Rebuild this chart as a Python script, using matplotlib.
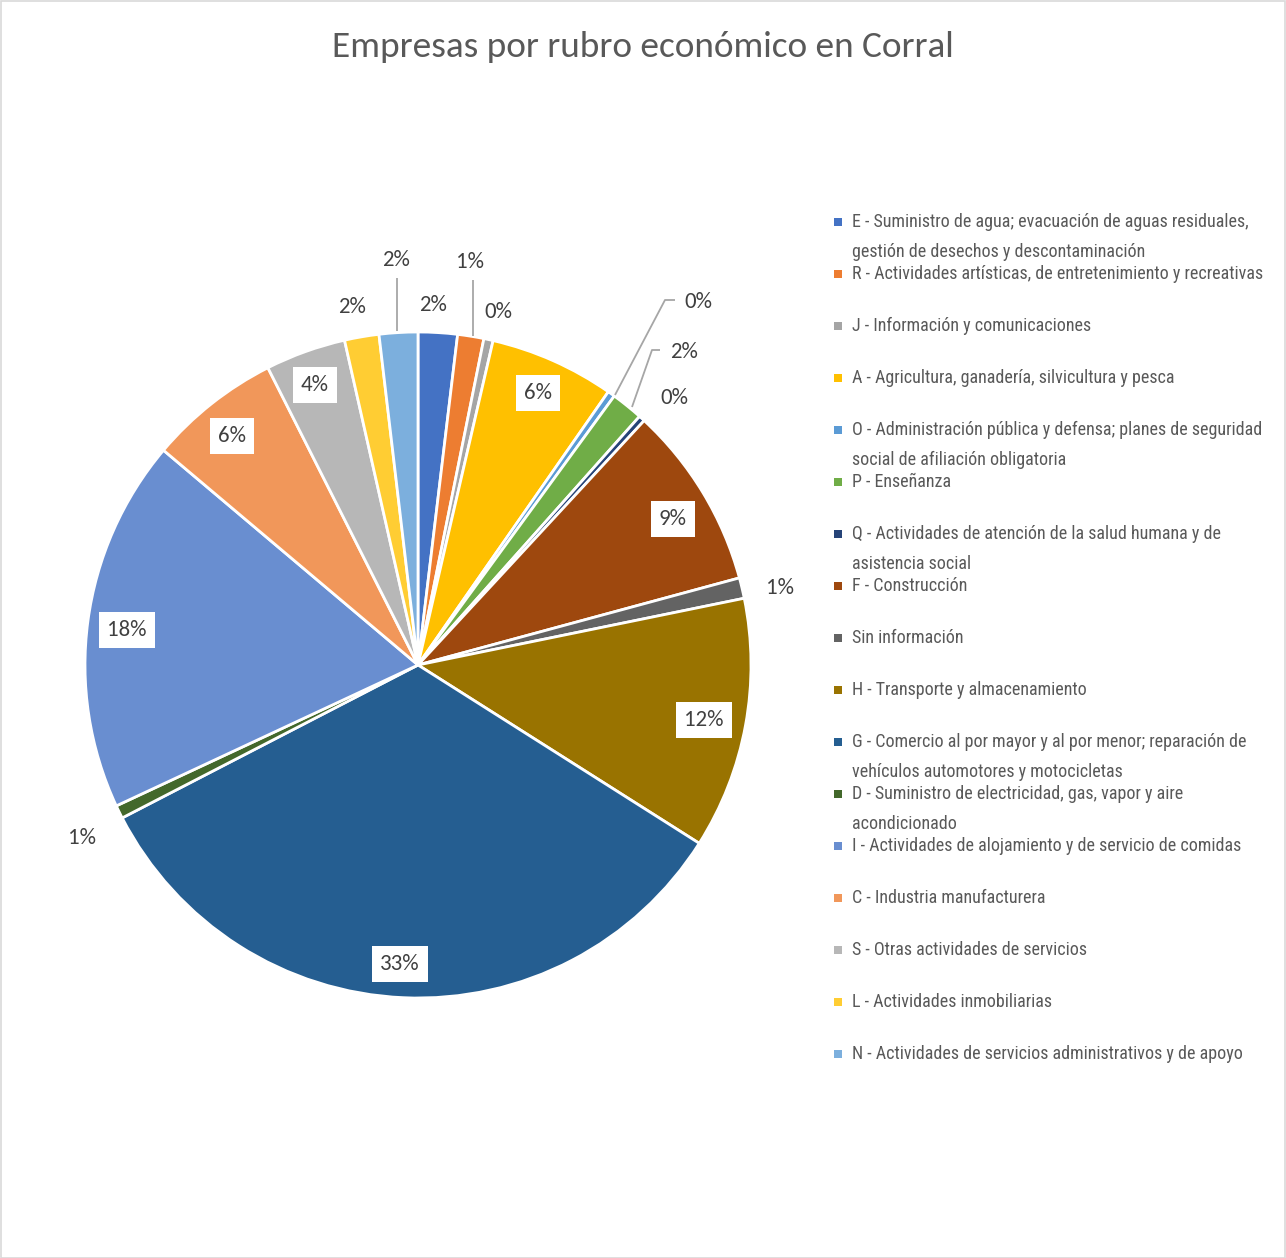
import matplotlib
matplotlib.use("Agg")
import matplotlib.pyplot as plt
from matplotlib.patches import Rectangle

# ---------------- data ----------------
categories = [
    "E - Suministro de agua; evacuación de aguas residuales,\ngestión de desechos y descontaminación",
    "R - Actividades artísticas, de entretenimiento y recreativas",
    "J - Información y comunicaciones",
    "A - Agricultura, ganadería, silvicultura y pesca",
    "O - Administración pública y defensa; planes de seguridad\nsocial de afiliación obligatoria",
    "P - Enseñanza",
    "Q - Actividades de atención de la salud humana y de\nasistencia social",
    "F - Construcción",
    "Sin información",
    "H - Transporte y almacenamiento",
    "G - Comercio al por mayor y al por menor; reparación de\nvehículos automotores y motocicletas",
    "D - Suministro de electricidad, gas, vapor y aire\nacondicionado",
    "I - Actividades de alojamiento y de servicio de comidas",
    "C - Industria manufacturera",
    "S - Otras actividades de servicios",
    "L - Actividades inmobiliarias",
    "N - Actividades de servicios administrativos y de apoyo",
]
values = [1.9, 1.27, 0.45, 6.06, 0.35, 1.55, 0.3, 8.9, 1.0, 12.2, 33.4,
          0.64, 18.1, 6.4, 3.9, 1.67, 1.87]

colors = ["#4472C4", "#ED7D31", "#A5A5A5", "#FFC000", "#5B9BD5", "#70AD47",
          "#264478", "#9E480E", "#636363", "#997300", "#255E91", "#43682B",
          "#698ED0", "#F1975A", "#B7B7B7", "#FFCD33", "#7CAFDD"]

# label layout (pixel centres) and whether boxed
label_px = [(433, 305), (470, 262), (498, 312), (538, 393), (698, 302),
            (684, 352), (674, 398), (673, 519), (780, 588), (704, 720),
            (400, 964), (82, 838), (127, 630), (232, 436), (315, 385),
            (352, 307), (396, 260)]
boxed = [False, False, False, True, False, False, False, True, False, True,
         True, False, True, True, True, False, False]
leaders = {
    1: [(473, 280), (473, 336)],
    16: [(397, 278), (397, 331)],
    4: [(615, 395), (665, 300), (675, 300)],
    5: [(632, 407), (652, 350), (660, 350)],
}

W, H = 1286, 1258
fig = plt.figure(figsize=(W / 100, H / 100), dpi=100)
ax = fig.add_axes([0, 0, 1, 1])

cx, cy, r = 418, 665, 333
ax.pie(values, colors=colors, startangle=90, counterclock=False,
       center=(cx, H - cy), radius=r,
       wedgeprops=dict(edgecolor="white", linewidth=2.0))
ax.set_xlim(0, W)
ax.set_ylim(0, H)
ax.set_aspect("equal")
ax.axis("off")

total = sum(values)
lab_font = ["Carlito", "Lato", "DejaVu Sans"]
for i, v in enumerate(values):
    txt = f"{round(v / total * 100)}%"
    px, py = label_px[i]
    kw = dict(ha="center", va="center", fontsize=16.5, color="#404040",
              family=lab_font, zorder=5)
    if boxed[i]:
        kw["bbox"] = dict(boxstyle="square,pad=0.35", facecolor="white",
                          edgecolor="none")
    ax.text(px, H - py, txt, **kw)

for i, pts in leaders.items():
    xs = [p[0] for p in pts]
    ys = [H - p[1] for p in pts]
    ax.plot(xs, ys, color="#A6A6A6", lw=1.3, zorder=4, solid_capstyle="butt")

# title
ax.text(643, H - 47, "Empresas por rubro económico en Corral", ha="center",
        va="center", fontsize=26.8, color="#595959", family=lab_font)

# legend
leg_font = ["Roboto Condensed", "Open Sans Condensed", "DejaVu Sans"]
for i, (cat, col) in enumerate(zip(categories, colors)):
    y0 = 222 + 52 * i
    ax.add_patch(Rectangle((834, H - y0 - 4), 8, 8, facecolor=col,
                           edgecolor="none"))
    for j, line in enumerate(cat.split("\n")):
        ax.text(852, H - (y0 + 30 * j), line, ha="left", va="center",
                fontsize=13, color="#595959", family=leg_font)

# chart border
ax.add_patch(Rectangle((0.5, 0.5), W - 1.5, H - 1.5, fill=False,
                       edgecolor="#D9D9D9", lw=1.2))

fig.savefig("out.png", dpi=100, facecolor="white")
